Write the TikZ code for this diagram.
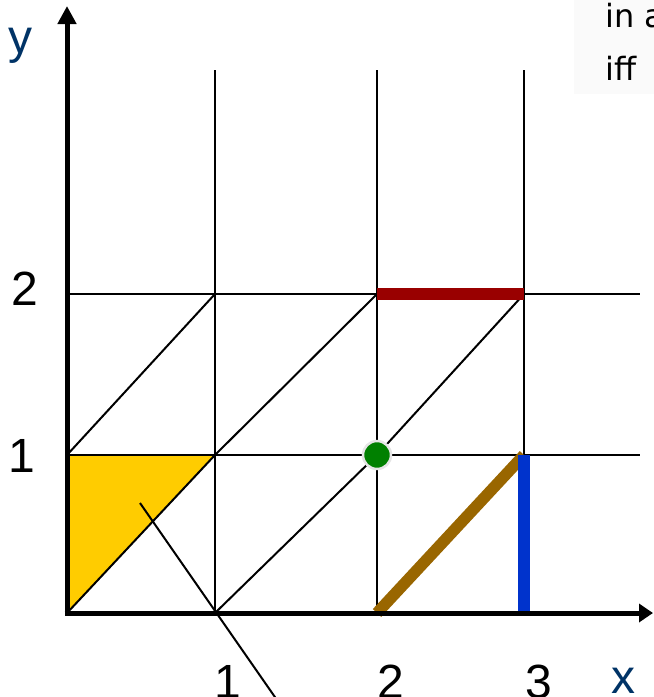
\documentclass[tikz,border=0pt]{standalone}
\usepackage{fontspec}
\setmainfont{Liberation Sans}
\newfontfamily\notefont{DejaVu Sans}
\usetikzlibrary{arrows.meta}
\definecolor{cellyellow}{HTML}{FFCC00}
\definecolor{edgered}{HTML}{990000}
\definecolor{edgebrown}{HTML}{996600}
\definecolor{edgeblue}{HTML}{0033CC}
\definecolor{vertexgreen}{HTML}{008000}
\definecolor{axisblue}{HTML}{003366}
\tikzset{
  gridline/.style={
    line width=2pt,
    black
  },
  axis/.style={
    line width=5pt,
    black
  },
  bar/.style={
    line width=11.5pt
  },
  ticklabel/.style={
    font=\fontsize{48}{48}\selectfont,
    inner sep=0pt,
    anchor=base
  },
  axislabel/.style={
    ticklabel,
    text=axisblue
  },
  note/.style={
    font=\notefont\fontsize{32}{32}\selectfont,
    inner sep=0pt,
    anchor=base west
  },
  vertex/.style={
    shape=circle,
    fill=vertexgreen,
    draw=gray!20,
    line width=2.5pt,
    minimum size=28pt,
    inner sep=0pt
  }
}

\begin{document}
\begin{tikzpicture}[x=1pt,y=-1pt]
\useasboundingbox (0,0) rectangle (654,697);
\clip (0,0) rectangle (654,697);

% grid points
\foreach \i/\gx in {0/67,1/215,2/377,3/524}
  \foreach \j/\gy in {0/613,1/455,2/294}
    \coordinate (g\i\j) at (\gx,\gy);
\coordinate (t1) at (215,70);
\coordinate (t2) at (377,70);
\coordinate (t3) at (524,70);
\coordinate (r1) at (640,455);
\coordinate (r2) at (640,294);

\fill[gray!4] (574,0) rectangle (654,94);
\node[note] (noteA) at (605,27) {in a};
\node[note] (noteB) at (605,80) {iff};

% shaded cell
\fill[cellyellow] (g00) -- (g01) -- (g11) -- cycle;

% grid
\draw[gridline] (g10) -- (t1);
\draw[gridline] (g20) -- (t2);
\draw[gridline] (g30) -- (t3);
\draw[gridline] (g01) -- (r1);
\draw[gridline] (g02) -- (r2);
\draw[gridline] (g00) -- (g11) -- (g22);
\draw[gridline] (g10) -- (g21) -- (g32);
\draw[gridline] (g01) -- (g12);

% edges
\draw[bar, edgered] (g22) -- (g32);
\draw[bar, edgebrown] (g20) -- (g31);
\draw[bar, edgeblue] (g30) -- (g31);

\node[vertex] (v21) at (g21) {};

% pointer
\coordinate (ptr) at (140,503);
\coordinate (ptrend) at (277,700);
\draw[gridline] (ptr) -- (ptrend);

% axes
\coordinate (ytop) at (67,6);
\coordinate (xend) at (653,613);
\draw[axis, -{Triangle[length=18pt,width=18pt]}] (67,615.5) -- (ytop);
\draw[axis, -{Triangle[length=14pt,width=18pt]}] (64.5,613) -- (xend);

\node[ticklabel] (x1) at (228,698) {1};
\node[ticklabel] (x2) at (391,698) {2};
\node[ticklabel] (x3) at (539,698) {3};
\node[axislabel] (xl) at (623,693) {x};
\node[ticklabel] (y1) at (22,472) {1};
\node[ticklabel] (y2) at (25,305) {2};
\node[axislabel] (yl) at (21,53) {y};
\end{tikzpicture}
\end{document}
